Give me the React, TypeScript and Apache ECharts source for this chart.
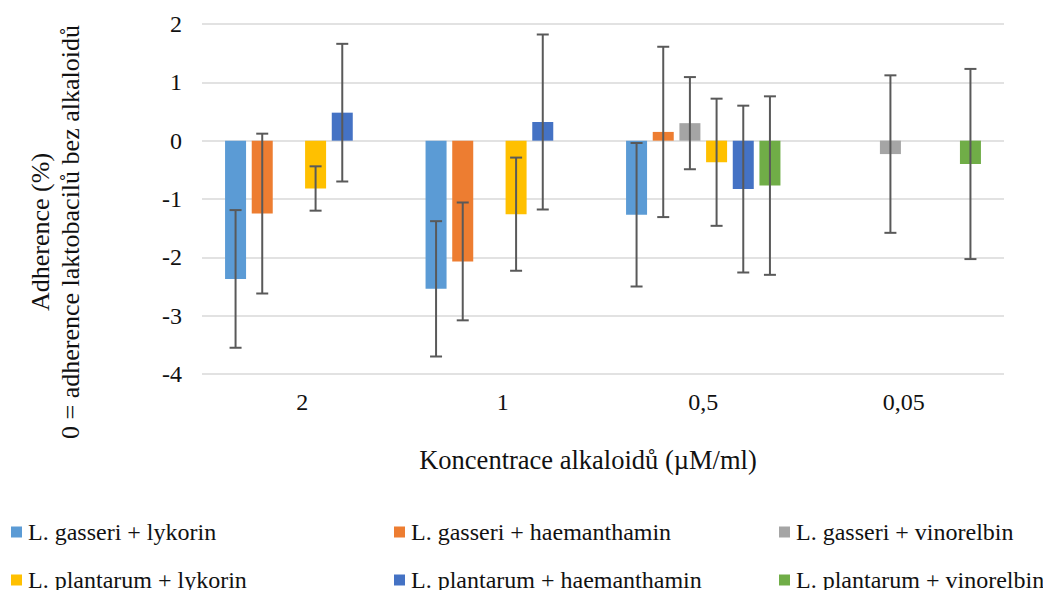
import React, { useEffect, useRef } from "react";
import * as echarts from "echarts";

const categories = ["2", "1", "0,5", "0,05"];
const seriesNames = [
  "L. gasseri + lykorin",
  "L. gasseri + haemanthamin",
  "L. gasseri + vinorelbin",
  "L. plantarum + lykorin",
  "L. plantarum + haemanthamin",
  "L. plantarum + vinorelbin",
];
const colors = ["#5B9BD5", "#ED7D31", "#A5A5A5", "#FFC000", "#4472C4", "#70AD47"];

const gasseriLykorin = [-2.37, -2.54, -1.27, null];
const gasseriLykorinErr = [1.18, 1.16, 1.23, null];
const gasseriHaemanthamin = [-1.25, -2.07, 0.15, null];
const gasseriHaemanthaminErr = [1.37, 1.01, 1.46, null];
const gasseriVinorelbin = [null, null, 0.3, -0.23];
const gasseriVinorelbinErr = [null, null, 0.79, 1.35];
const plantarumLykorin = [-0.82, -1.26, -0.37, null];
const plantarumLykorinErr = [0.38, 0.97, 1.09, null];
const plantarumHaemanthamin = [0.48, 0.32, -0.83, null];
const plantarumHaemanthaminErr = [1.18, 1.5, 1.43, null];
const plantarumVinorelbin = [null, null, -0.77, -0.4];
const plantarumVinorelbinErr = [null, null, 1.53, 1.63];

const values = [
  gasseriLykorin,
  gasseriHaemanthamin,
  gasseriVinorelbin,
  plantarumLykorin,
  plantarumHaemanthamin,
  plantarumVinorelbin,
];
const errors = [
  gasseriLykorinErr,
  gasseriHaemanthaminErr,
  gasseriVinorelbinErr,
  plantarumLykorinErr,
  plantarumHaemanthaminErr,
  plantarumVinorelbinErr,
];

const FONT = "'Liberation Serif', 'Times New Roman', serif";
const CAT_GAP = 0.23;
const BAR_GAP = 0.27;

const legendPos = [
  [11, 520],
  [394, 520],
  [779, 520],
  [11, 568],
  [394, 568],
  [779, 568],
];

export default function App() {
  const ref = useRef<HTMLDivElement>(null);
  useEffect(() => {
    document.body.style.margin = "0";
    const chart = echarts.init(ref.current!, null, { renderer: "svg" });
    const n = seriesNames.length;
    const barSeries = seriesNames.map((name, i) => ({
      name,
      type: "bar",
      data: values[i].map((v) => (v === null ? "-" : v)),
      itemStyle: { color: colors[i] },
      barGap: `${BAR_GAP * 100}%`,
      barCategoryGap: `${CAT_GAP * 100}%`,
      z: 2,
    }));
    const errSeries = seriesNames.map((_, i) => ({
      type: "custom",
      z: 5,
      silent: true,
      encode: { x: 0, y: [1, 2] },
      data: values[i]
        .map((v, ci) =>
          v === null || errors[i][ci] === null
            ? null
            : [ci, v - (errors[i][ci] as number), v + (errors[i][ci] as number)]
        )
        .filter((d) => d !== null),
      renderItem: (params: any, api: any) => {
        const ci = api.value(0);
        const lo = api.value(1);
        const hi = api.value(2);
        const pLo = api.coord([ci, lo]);
        const pHi = api.coord([ci, hi]);
        const cw = api.size([1, 0])[0];
        const bw = (cw * (1 - CAT_GAP)) / (n + (n - 1) * BAR_GAP);
        const slot = bw * (1 + BAR_GAP);
        const x = pLo[0] + (i - (n - 1) / 2) * slot;
        const style = { stroke: "#595959", lineWidth: 2 };
        const cap = 6;
        return {
          type: "group",
          children: [
            { type: "line", shape: { x1: x, y1: pLo[1], x2: x, y2: pHi[1] }, style },
            { type: "line", shape: { x1: x - cap, y1: pLo[1], x2: x + cap, y2: pLo[1] }, style },
            { type: "line", shape: { x1: x - cap, y1: pHi[1], x2: x + cap, y2: pHi[1] }, style },
          ],
        };
      },
    }));
    const option: any = {
      animation: false,
      textStyle: { fontFamily: FONT },
      grid: { left: 202, right: 39, top: 24, bottom: 216, containLabel: false },
      xAxis: {
        type: "category",
        data: categories,
        axisLine: { show: false, onZero: false },
        axisTick: { show: false },
        axisLabel: { fontFamily: FONT, fontSize: 24, color: "#111", margin: 16 },
      },
      yAxis: {
        type: "value",
        min: -4,
        max: 2,
        interval: 1,
        axisLine: { show: false },
        axisTick: { show: false },
        axisLabel: { fontFamily: FONT, fontSize: 24, color: "#111", margin: 20 },
        splitLine: { lineStyle: { color: "#D9D9D9", width: 1.5 } },
      },
      legend: seriesNames.map((name, i) => ({
        data: [name],
        left: legendPos[i][0],
        top: legendPos[i][1],
        itemWidth: 11,
        itemHeight: 11,
        itemGap: 2,
        padding: 0,
        icon: "rect",
        selectedMode: false,
        textStyle: { fontFamily: FONT, fontSize: 24, color: "#111", padding: [0, 0, 0, 1] },
      })),
      graphic: [
        {
          type: "text",
          x: 55,
          y: 232,
          rotation: Math.PI / 2,
          style: {
            text: "Adherence (%)\n0 = adherence laktobacilů bez alkaloidů",
            fontFamily: FONT,
            fontSize: 26,
            lineHeight: 30,
            fill: "#111",
            align: "center",
            verticalAlign: "middle",
          },
        },
        {
          type: "text",
          x: 588,
          y: 460,
          style: {
            text: "Koncentrace alkaloidů (µM/ml)",
            fontFamily: FONT,
            fontSize: 26.5,
            fill: "#111",
            align: "center",
            verticalAlign: "middle",
          },
        },
      ],
      series: [...barSeries, ...errSeries],
    };
    chart.setOption(option);
    return () => chart.dispose();
  }, []);
  return <div ref={ref} style={{ width: 1043, height: 590 }} />;
}
